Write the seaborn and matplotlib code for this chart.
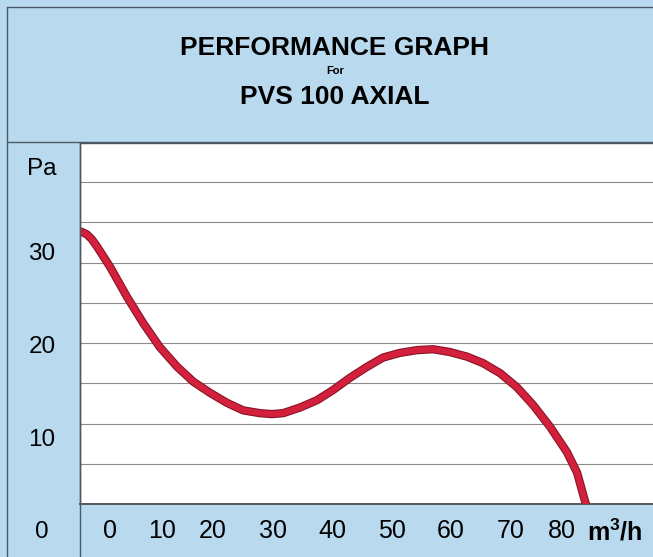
import matplotlib
matplotlib.use("Agg")
import matplotlib.pyplot as plt
import matplotlib.patheffects as pe
from matplotlib.lines import Line2D
import seaborn as sns
import pandas as pd

# ---- data ----
flow = [-2.3, -1.3, -0.5, 0.4, 2.6, 5.5, 8.2, 11.0, 13.9, 16.6, 19.4, 22.3, 25.0, 27.8,
        29.8, 31.7, 34.5, 37.4, 40.1, 42.9, 45.8, 48.5, 51.3, 54.2, 56.9, 59.7, 62.6,
        65.3, 68.2, 71.0, 73.7, 76.6, 79.4, 81.1, 82.4, 83.9]
pressure = [32.2, 31.9, 31.4, 30.6, 28.4, 25.1, 22.3, 19.7, 17.6, 16.0, 14.8, 13.7, 12.9, 12.6,
            12.5, 12.6, 13.2, 14.0, 15.1, 16.4, 17.6, 18.6, 19.1, 19.4, 19.5, 19.2, 18.7,
            18.0, 16.9, 15.4, 13.5, 11.1, 8.4, 6.2, 3.2, 0.0]

x_tick_labels = ["0", "10", "20", "30", "40", "50", "60", "70", "80", r"m$^{\mathbf{3}}$/h"]
x_tick_pos = [2.6, 11.4, 19.9, 30.0, 39.9, 50.0, 59.9, 70.0, 78.6, 87.5]
y_tick_labels = ["0", "10", "20", "30", "Pa"]
y_tick_pos = [0, 10, 20, 30, 39.2]
grid_levels = [7.1, 11.4, 15.9, 20.2, 24.5, 28.8, 33.2, 37.5]

title_lines = ["PERFORMANCE GRAPH", "For", "PVS 100 AXIAL"]

df = pd.DataFrame({"flow": flow, "pressure": pressure})

sns.set_theme(style="white")
plt.rcParams["font.family"] = ["Liberation Sans", "DejaVu Sans"]
plt.rcParams["mathtext.fontset"] = "custom"
plt.rcParams["mathtext.rm"] = "Liberation Sans:bold"
plt.rcParams["mathtext.bf"] = "Liberation Sans:bold"

W, H = 653, 557
fig = plt.figure(figsize=(W / 100, H / 100), dpi=100)
bg = "#b9d9ee"
fig.patch.set_facecolor(bg)

ax = fig.add_axes([80 / W, (H - 504) / H, 573 / W, 361 / H])
ax.set_facecolor("white")

sns.lineplot(data=df, x="flow", y="pressure", ax=ax, sort=False, estimator=None,
             color="#d3203c", linewidth=4.4)
line = ax.lines[0]
line.set_solid_capstyle("round")
line.set_solid_joinstyle("round")
line.set_path_effects([pe.Stroke(linewidth=6.0, foreground="#8a1426",
                                 joinstyle="round", capstyle="round"), pe.Normal()])
line.set_zorder(3)

ax.set_xlim(-2.44, 93.87)
ax.set_ylim(2.8, 41.75)

# grid lines
ax.set_yticks(grid_levels, minor=True)
ax.set_yticks([])
ax.grid(which="minor", axis="y", color="#8e8a8a", linewidth=0.8)
ax.tick_params(which="both", length=0)

# x tick labels
ax.set_xticks(x_tick_pos)
ax.set_xticklabels(x_tick_labels, fontsize=18, color="black")
ax.tick_params(axis="x", pad=11)
ax.get_xticklabels()[-1].set_fontweight("bold")
ax.set_xlabel("")
ax.set_ylabel("")

# y labels in left band
ytrans = ax.get_yaxis_transform()
for v, lab in zip(y_tick_pos, y_tick_labels):
    ax.text(-0.0663, v, lab, transform=ytrans, ha="center", va="center_baseline",
            fontsize=17.5, color="black", clip_on=False)

ax.spines["right"].set_visible(False)
ax.spines["left"].set_color("#4b5560")
ax.spines["left"].set_linewidth(1.0)
ax.spines["bottom"].set_color("#55595e")
ax.spines["bottom"].set_linewidth(1.4)
ax.spines["top"].set_color("#4b5866")
ax.spines["top"].set_linewidth(1.0)

# frame lines of the panel
def fline(x0, y0, x1, y1, lw=1.0, c="#4b5866"):
    fig.add_artist(Line2D([x0 / W, x1 / W], [1 - y0 / H, 1 - y1 / H],
                          transform=fig.transFigure, color=c, linewidth=lw))

fline(7, 7, 653, 7)
fline(7, 7, 7, 557)
fline(7, 142, 653, 142)
fline(79.5, 142, 79.5, 557)

# title
fig.text(335 / W, 1 - 55 / H, title_lines[0], ha="center", va="baseline",
         fontsize=19, fontweight="bold", color="black")
fig.text(335 / W, 1 - 74 / H, title_lines[1], ha="center", va="baseline",
         fontsize=8, fontweight="bold", color="black")
fig.text(335 / W, 1 - 104 / H, title_lines[2], ha="center", va="baseline",
         fontsize=19, fontweight="bold", color="black")

fig.savefig("out.png", dpi=100, facecolor=fig.get_facecolor())
